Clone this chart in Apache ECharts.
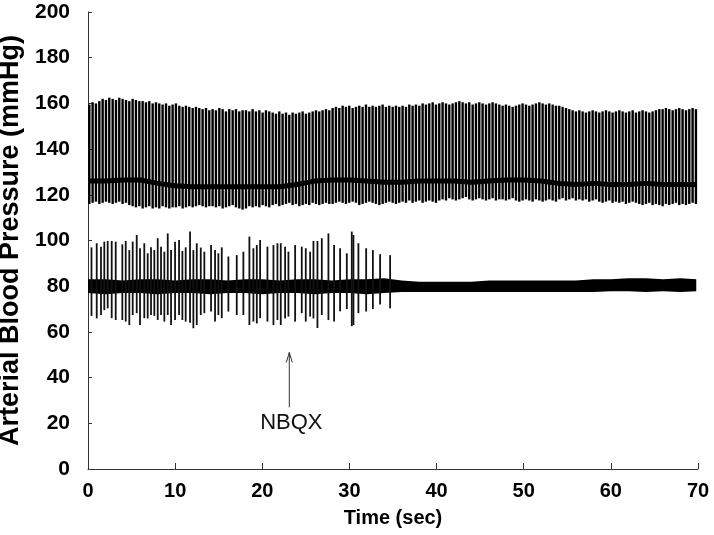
<!DOCTYPE html>
<html><head><meta charset="utf-8">
<script src="https://cdn.jsdelivr.net/npm/echarts@6/dist/echarts.min.js"></script>
<style>html,body{margin:0;padding:0;background:#fff}#c{width:714px;height:535px}</style>
</head><body><div id="c"></div>
<script>
// Upper trace: individual heart beats (time in s, systolic peak, diastolic trough in mmHg)
const beatTimes = [0.15,0.53,0.91,1.30,1.68,2.06,2.44,2.83,3.21,3.59,3.97,4.36,4.74,5.12,5.50,5.89,6.27,6.65,7.03,7.42,7.80,8.18,8.56,8.95,9.33,9.71,10.09,10.48,10.86,11.24,11.62,12.01,12.39,12.77,13.15,13.54,13.92,14.30,14.68,15.07,15.45,15.83,16.21,16.60,16.98,17.36,17.74,18.13,18.51,18.89,19.27,19.66,20.04,20.42,20.80,21.19,21.57,21.95,22.33,22.72,23.10,23.48,23.86,24.25,24.63,25.01,25.39,25.78,26.16,26.54,26.92,27.31,27.69,28.07,28.45,28.84,29.22,29.60,29.98,30.37,30.75,31.13,31.51,31.90,32.28,32.66,33.04,33.43,33.81,34.19,34.57,34.96,35.34,35.72,36.10,36.49,36.87,37.25,37.63,38.02,38.40,38.78,39.16,39.55,39.93,40.31,40.69,41.08,41.46,41.84,42.22,42.61,42.99,43.37,43.75,44.14,44.52,44.90,45.28,45.67,46.05,46.43,46.81,47.20,47.58,47.96,48.34,48.73,49.11,49.49,49.87,50.26,50.64,51.02,51.40,51.79,52.17,52.55,52.93,53.32,53.70,54.08,54.46,54.85,55.23,55.61,55.99,56.38,56.76,57.14,57.52,57.91,58.29,58.67,59.05,59.44,59.82,60.20,60.58,60.97,61.35,61.73,62.11,62.50,62.88,63.26,63.64,64.03,64.41,64.79,65.17,65.56,65.94,66.32,66.70,67.09,67.47,67.85,68.23,68.62,69.00,69.38,69.76];
const beatHigh = [159.5,160.5,160,161,
162,161.5,162.5,162,161.5,162.5,162,161.5,161,162,161.5,161,
161,160.5,161,160,160.5,160,
159.5,160,159,159.5,160,159,158.5,159,158.5,158,158.5,158,
157.5,158,157,157.5,157,158,157.5,156.5,157.5,157,157.5,156.5,157,
157,156.5,157.5,156.5,157,156,157,156.5,
156,155.5,156.5,155.5,156,155,156,155.5,156,156.5,155.5,156,156.5,157,156.5,157,157.5,157,
158,158.5,158,159,158.5,159,158,158.5,159,158.5,159.5,158.5,159,158.5,159,159.5,158.5,159,158.5,159,158.5,
159,158.5,159.5,159,159.5,159,
160,159.5,160,160.5,159.5,160,160.5,160,159.5,160,160.5,161,160.5,160,160.5,159.5,160,160.5,160,159.5,160,160.5,160,159.5,
159,159.5,159,158.5,159,159.5,160,159.5,159,159.5,160,160.5,160,159.5,160,159.5,159,
159,158.5,158,157.5,157,
156.5,157,156.5,156,156.5,157,156.5,156,156.5,157,156.5,156,156.5,157,
156.5,156,156.5,157,156,156.5,157,156.5,156,156.5,157,157.5,
157.5,158,157.5,157,157.5,158,157.5,157,157.5,158,157.5];
const beatLow = [116,116.5,117,116,116.5,117,116.5,116,116.5,117,116,116.5,
115.5,115,114.5,115,114,114.5,115,114,114.5,114,115,114.5,114,114.5,
114.5,115,114,114.5,115,114.5,115,115.5,115,114.5,115,
115,114.5,115,114,114.5,115,115.5,114.5,114,113.5,114,115,114.5,115,114.5,115.5,115,114.5,
115.5,116,115,115.5,116,116.5,115.5,116,115,115.5,116,115.5,116.5,116,115.5,116,116.5,116,
116,116.5,117,116.5,116,116.5,117,116.5,115.5,116,116.5,117,116.5,116,115.5,116,116.5,117,116.5,116,116.5,
117,116.5,117.5,116.5,117,117.5,116.5,117,117.5,117,116.5,117.5,
118,117.5,118.5,118,117.5,118,118.5,119,118,117.5,118,118.5,118,117.5,118,118.5,117.5,118,
118,117.5,118,118.5,117.5,117,117.5,118,117.5,117,118,117.5,117,117.5,118,117.5,117,
118,118.5,117.5,118,118.5,117.5,118,117.5,118,117,117.5,118,
117,116.5,117,117.5,116.5,117,116.5,117,116,116.5,117,116.5,
116,115.5,116,116.5,115.5,116,115.5,115,116,115.5,116,116.5,115.5,116,115.5,116,116.5,116];

// Dense dark band of the upper trace (mmHg), and the lower (mean) trace band edges
const bandTimes = [0,2,4,6,8,10,12,14,16,18,20,22,24,26,28,30,32,34,36,38,40,42,44,46,48,50,52,54,56,58,60,62,64,66,68,69.8];
const upperBand = [126,126,126.5,126.5,125,124,123.5,123.5,123.5,123.5,123.5,123.5,124.5,126,126.5,126.5,126,125.5,125.5,126,126,126,125.5,126,126.5,126.5,126,125,124.5,125,124.5,124.5,125,124.5,124.5,124.5];
const lowerTop = [83,83,82.5,83,83,82.5,83,83,82.5,83,83,82.5,83,83,82.5,83,83,83.5,82.5,82,82,82,82,82.5,82.5,82.5,82.5,82.5,82.5,83,83,83.5,83.5,83,83.5,83];
const lowerBottom = [77,76.5,77,77,76.5,77,77,76.5,77,77,76.5,77,77,76.5,77,77,76.5,77,77.5,77.5,77.5,77.5,77.5,77.5,77.5,77.5,77.5,77.5,77.5,77.5,77.8,77.8,77.5,77.8,77.5,77.8];

// Lower trace pulses before NBQX effect
const spikeTimes = [0.4,1.0,1.49,1.87,2.26,2.72,3.18,3.94,4.33,4.74,5.13,5.59,5.97,6.46,6.85,7.23,7.61,8.0,8.38,8.76,9.15,9.53,9.99,10.45,10.83,11.21,11.71,12.09,12.48,12.94,13.35,14.12,14.58,14.96,15.35,16.11,17.07,17.83,18.52,18.98,19.37,19.75,20.59,21.28,21.74,22.12,22.62,23.0,23.77,24.53,24.99,25.49,25.87,26.33,26.83,27.59,28.24,28.93,29.7,30.27,30.46,31.03,31.92,32.69,33.52,34.67];
const spikeHigh = [97,98.8,97.3,99.5,99.8,99.8,99.5,98.3,99.8,95.8,99.5,102.4,96.6,98.8,94.4,97,95.8,101,97.3,95.1,103.1,95.8,99.5,100.2,95.4,97,103.9,95.8,98.8,96.9,95.1,98,95.8,94.4,97,93,93.6,95.1,101.7,96.6,98,100.2,97.3,98,98.8,98.8,97.3,95.1,98,97.3,96.6,95.1,99.8,99.8,101,103.1,98,96.6,94.4,103.9,102.4,98.8,96.6,95.8,94,93.6];
const spikeLow = [67,65.9,67.4,69.5,70.3,66,65.2,65.2,64.5,63,67.4,68.2,63,66,65.9,67.4,67,65.2,67.4,64.5,67.4,63,65.2,67.4,65.2,64.5,64,61.6,63,67.4,68.2,68.9,64.5,67.4,66,68.9,67.4,67.4,63,64.5,63.7,66,64.5,63,65.2,63,65.9,66.7,64.5,68.2,64.5,66.7,65.9,61.7,67.4,65.2,64.5,69,70,62.5,63,68.2,68.9,70,72,70.3];

// Trace end mark at the right edge
const traceEndTime = 70.2;
const traceEndRange = [101.5, 120];

// NBQX annotation
const arrowTime = 23.1, arrowFrom = 27, arrowTo = 51, labelValue = 20.3;
const annotationText = 'NBQX';

const FONT = '"Liberation Sans", Arial, Helvetica, sans-serif';

function vbars(width, color) {
  return function (params, api) {
    const t = api.value(0), lo = api.value(1), hi = api.value(2);
    const a = api.coord([t, hi]), b = api.coord([t, lo]);
    return { type: 'rect', shape: { x: a[0] - width / 2, y: a[1], width: width, height: b[1] - a[1] }, style: { fill: color } };
  };
}

const beatData = beatTimes.map((t, i) => [t, beatLow[i], beatHigh[i]]);
const spikeData = spikeTimes.map((t, i) => [t, spikeLow[i], spikeHigh[i]]);

const chart = echarts.init(document.getElementById('c'), null, { renderer: 'canvas' });
chart.setOption({
  animation: false,
  backgroundColor: '#fff',
  grid: { left: 88, right: 16, top: 12, bottom: 66, containLabel: false, outerBoundsMode: 'none' },
  xAxis: {
    type: 'value', min: 0, max: 70, interval: 10,
    name: 'Time (sec)', nameLocation: 'middle', nameGap: 39,
    nameTextStyle: { fontFamily: FONT, fontWeight: 'bold', fontSize: 20, color: '#000' },
    axisLine: { lineStyle: { color: '#333', width: 1 } },
    axisTick: { inside: true, length: 6, lineStyle: { color: '#333' } },
    axisLabel: { fontFamily: FONT, fontWeight: 'bold', fontSize: 20, color: '#000', margin: 12 },
    splitLine: { show: false }
  },
  yAxis: {
    type: 'value', min: 0, max: 200, interval: 20,
    name: 'Arterial Blood Pressure (mmHg)', nameLocation: 'middle', nameGap: 59,
    nameTextStyle: { fontFamily: FONT, fontWeight: 'bold', fontSize: 27, color: '#000' },
    axisLine: { show: true, lineStyle: { color: '#333', width: 1 } },
    axisTick: { show: true, inside: true, length: 4, lineStyle: { color: '#333' } },
    axisLabel: { fontFamily: FONT, fontWeight: 'bold', fontSize: 21, color: '#000', margin: 18 },
    splitLine: { show: false }
  },
  series: [
    { type: 'custom', renderItem: vbars(2.4, '#000'), data: beatData, encode: { x: 0, y: [1, 2] }, z: 2 },
    { type: 'line', data: bandTimes.map((t, i) => [t, upperBand[i]]), showSymbol: false, lineStyle: { color: '#000', width: 5 }, z: 3 },
    {
      type: 'custom', z: 2, data: [[0, 80]], encode: { x: 0, y: 1 },
      renderItem: function (params, api) {
        const pts = [];
        for (let i = 0; i < bandTimes.length; i++) pts.push(api.coord([bandTimes[i], lowerTop[i]]));
        for (let i = bandTimes.length - 1; i >= 0; i--) pts.push(api.coord([bandTimes[i], lowerBottom[i]]));
        return { type: 'polygon', shape: { points: pts }, style: { fill: '#000' } };
      }
    },
    { type: 'custom', renderItem: vbars(1.8, '#111'), data: spikeData, encode: { x: 0, y: [1, 2] }, z: 2 },
    { type: 'line', data: [[traceEndTime, traceEndRange[0]], [traceEndTime, traceEndRange[1]]], showSymbol: false, clip: false, lineStyle: { color: '#333', width: 1 } }
  ]
});

const pBottom = chart.convertToPixel({ gridIndex: 0 }, [arrowTime, arrowFrom]);
const pTop = chart.convertToPixel({ gridIndex: 0 }, [arrowTime, arrowTo]);
const pLabel = chart.convertToPixel({ gridIndex: 0 }, [arrowTime, labelValue]);
chart.setOption({
  graphic: [
    { type: 'line', shape: { x1: pBottom[0], y1: pBottom[1], x2: pTop[0], y2: pTop[1] }, style: { stroke: '#333', lineWidth: 1 } },
    { type: 'polyline', shape: { points: [[pTop[0] - 3, pTop[1] + 10], [pTop[0], pTop[1]], [pTop[0] + 3, pTop[1] + 10]] }, style: { stroke: '#333', lineWidth: 1, fill: null } },
    { type: 'text', x: pLabel[0] + 2, y: pLabel[1], style: { text: annotationText, font: '22px ' + FONT, fill: '#111', align: 'center', verticalAlign: 'middle' } }
  ]
});
</script>
</body></html>
